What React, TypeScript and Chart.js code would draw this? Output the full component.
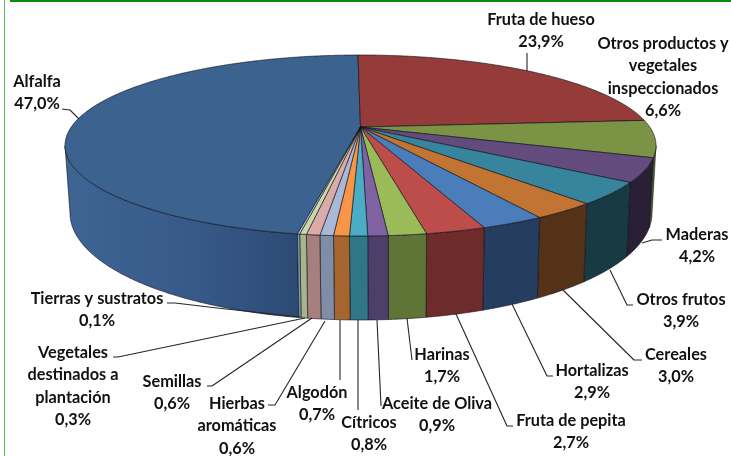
import React, { useEffect, useRef } from "react";
import Chart from "chart.js/auto";

const categories = [
  "Alfalfa",
  "Fruta de hueso",
  "Otros productos y\nvegetales\ninspeccionados",
  "Maderas",
  "Otros frutos",
  "Cereales",
  "Hortalizas",
  "Fruta de pepita",
  "Harinas",
  "Aceite de Oliva",
  "Cítricos",
  "Algodón",
  "Hierbas\naromáticas",
  "Semillas",
  "Vegetales\ndestinados a\nplantación",
  "Tierras y sustratos",
];
const values = [47.0, 23.9, 6.6, 4.2, 3.9, 3.0, 2.9, 2.7, 1.7, 0.9, 0.8, 0.7, 0.6, 0.6, 0.3, 0.1];

const topColors = ["#3C6290", "#953C3A", "#7A9345", "#644B7E", "#37859D", "#C27532", "#4A7DB9", "#BC4D4A", "#9BBB59", "#7E62A1", "#4BACC6", "#F79646", "#A8B9D8", "#DAABA9", "#C9D8A7", "#B9CDE5"];
const wallColors = ["#35598A", "#5E2726", "#54662F", "#292036", "#183B43", "#543217", "#253D5E", "#6D2B2A", "#5F7437", "#4E3F6A", "#2F7687", "#A6642E", "#7F8DA6", "#A67F7E", "#A5B58C", "#8A9BB0"];

// Pie geometry: perspective ellipse of the top and bottom faces
const TOP = { cx: 360.5, cy: 145.5, rx: 295.5, ry: 90.5 };
const BOTTOM = { cx: 361, cy: 213, rx: 291, ry: 107 };
const PERSPECTIVE = 0.204;

// Label placement: centre x and first-line centre y
const labelAnchors: [number, number][] = [
  [37, 82], [541, 20], [663, 44], [697, 235], [681, 300], [676, 355], [592, 371], [571, 421],
  [442, 355], [437, 404], [369, 423], [317, 393], [237, 404], [172, 382], [73, 353], [97, 299],
];
const leaders: [number, number][][] = [
  [[62, 109], [70, 110], [79, 119]],
  [[527, 53], [527, 71]],
  [],
  [[662, 240], [652, 240], [642, 243]],
  [[633, 305], [627, 305], [610, 270]],
  [[642, 360], [634, 360], [563, 290]],
  [[553, 376], [547, 376], [512, 304]],
  [[513, 426], [507, 426], [456, 314]],
  [[412, 360], [407, 318]],
  [[381, 406], [377, 320]],
  [[358, 410], [358, 320]],
  [[340, 380], [340, 320]],
  [[268, 405], [275, 405], [325, 321]],
  [[207, 386], [212, 386], [312, 318]],
  [[113, 357], [118, 357], [305, 318]],
  [[167, 303], [175, 303], [217, 308], [300, 317]],
];

const project = (theta: number) => {
  const u = Math.cos(theta);
  const v = Math.sin(theta);
  const e = PERSPECTIVE;
  const d = 1 - e * v;
  return { a: (u * Math.sqrt(1 - e * e)) / d, b: (v - e) / d };
};
const place = (f: typeof TOP, p: { a: number; b: number }) => [f.cx + f.rx * p.a, f.cy + f.ry * p.b] as const;
const apex = () => [TOP.cx, TOP.cy - PERSPECTIVE * TOP.ry] as const;

const sampleAngles = (start: number, end: number) => {
  const out: number[] = [];
  const n = Math.max(2, Math.ceil((end - start) / 0.006));
  for (let i = 0; i <= n; i++) out.push(start + ((end - start) * i) / n);
  const c0 = Math.asin(PERSPECTIVE);
  for (const k of [-2, 0, 2]) {
    for (const c of [c0 + k * Math.PI, Math.PI - c0 + k * Math.PI]) {
      if (c > start && c < end) out.push(c);
    }
  }
  return out.sort((x, y) => x - y);
};

const pie3d = {
  id: "pie3d",
  beforeDatasetsDraw(chart: any) {
    const ctx: CanvasRenderingContext2D = chart.ctx;
    const arcs = chart.getDatasetMeta(0).data;
    ctx.save();
    // frame
    ctx.fillStyle = "#5DB85D";
    ctx.fillRect(4, 0, 1, 456);
    ctx.fillStyle = "#0B8A0B";
    ctx.fillRect(10, 0, 721, 2);

    ctx.lineJoin = "round";
    // walls
    arcs.forEach((arc: any, i: number) => {
      const pts = sampleAngles(arc.startAngle, arc.endAngle)
        .map(project)
        .filter((p) => p.b >= -1e-6);
      if (pts.length < 2) return;
      ctx.beginPath();
      pts.forEach((p, k) => {
        const [x, y] = place(TOP, p);
        k ? ctx.lineTo(x, y) : ctx.moveTo(x, y);
      });
      [...pts].reverse().forEach((p) => {
        const [x, y] = place(BOTTOM, p);
        ctx.lineTo(x, y);
      });
      ctx.closePath();
      if (i === 0) {
        const g = ctx.createLinearGradient(70, 0, 298, 0);
        g.addColorStop(0, "#3D6493");
        g.addColorStop(0.55, "#37598A");
        g.addColorStop(1, "#2C4B73");
        ctx.fillStyle = g;
      } else {
        ctx.fillStyle = wallColors[i];
      }
      ctx.fill();
      ctx.strokeStyle = "rgba(15,15,25,0.75)";
      ctx.lineWidth = 0.8;
      ctx.stroke();
    });
    // top face
    const [ax, ay] = apex();
    arcs.forEach((arc: any, i: number) => {
      ctx.beginPath();
      ctx.moveTo(ax, ay);
      sampleAngles(arc.startAngle, arc.endAngle).forEach((t) => {
        const [x, y] = place(TOP, project(t));
        ctx.lineTo(x, y);
      });
      ctx.closePath();
      ctx.fillStyle = topColors[i];
      ctx.fill();
      ctx.strokeStyle = "rgba(15,15,25,0.8)";
      ctx.lineWidth = 0.8;
      ctx.stroke();
    });
    // labels
    ctx.strokeStyle = "#262626";
    ctx.lineWidth = 1.1;
    leaders.forEach((l) => {
      if (!l.length) return;
      ctx.beginPath();
      l.forEach(([x, y], k) => (k ? ctx.lineTo(x, y) : ctx.moveTo(x, y)));
      ctx.stroke();
    });
    ctx.fillStyle = "#111111";
    ctx.font = "bold 16.3px Lato";
    ctx.textAlign = "center";
    ctx.textBaseline = "middle";
    categories.forEach((name, i) => {
      const lines = [...name.split("\n"), values[i].toFixed(1).replace(".", ",") + "%"];
      const [x, y] = labelAnchors[i];
      lines.forEach((t, k) => ctx.fillText(t, x, y + k * 22.2));
    });
    ctx.restore();
    return false;
  },
};

export default function App() {
  const ref = useRef<HTMLCanvasElement | null>(null);
  useEffect(() => {
    document.body.style.margin = "0";
    const total = values.reduce((s, v) => s + v, 0);
    const chart = new Chart(ref.current as HTMLCanvasElement, {
      type: "pie",
      data: {
        labels: categories,
        datasets: [{ data: values, backgroundColor: topColors, borderWidth: 0 }],
      },
      options: {
        responsive: false,
        animation: false,
        rotation: -(values[0] / total) * 360 - 0.6,
        plugins: { legend: { display: false }, tooltip: { enabled: false } },
      },
      plugins: [pie3d],
    } as any);
    return () => chart.destroy();
  }, []);
  return <canvas ref={ref} width={731} height={456} style={{ display: "block" }} />;
}
